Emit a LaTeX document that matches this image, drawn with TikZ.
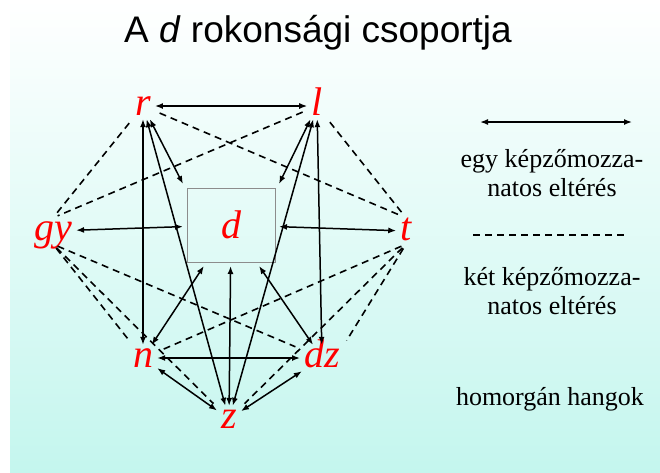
\documentclass[tikz,border=0pt]{standalone}
\usepackage{fontspec}
\setmainfont{Liberation Serif}
\newfontfamily\titlefont{Liberation Sans}
\usetikzlibrary{arrows.meta}
\definecolor{bgcyan}{RGB}{196,246,238}

\begin{document}
\begin{tikzpicture}[
    x=1pt, y=-1pt,
    >={Latex[length=8pt,width=6pt]},
    hang/.style={font=\itshape\fontsize{40}{40}\selectfont, text=red, text height=18pt, text depth=0pt, inner sep=4pt},
    dbox/.style={draw=black!45, line width=0.8pt, minimum width=88pt, minimum height=74pt, inner sep=0pt, outer sep=4pt, font=\itshape\fontsize{40}{40}\selectfont, text=red},
    egy/.style={<->, line width=1.5pt},
    ket/.style={dash pattern=on 7pt off 5pt, line width=1.6pt, shorten <=5pt, shorten >=5pt},
    txt/.style={font=\fontsize{26}{29}\selectfont, align=center},
]
% background
\useasboundingbox (0,0) rectangle (660,472);
\fill[white] (0,0) rectangle (660,472);
\shade[top color=white, bottom color=bgcyan] (10,0) rectangle (660,472);

\node[font=\titlefont\fontsize{37}{37}\selectfont, anchor=base] (cim) at (318,42) {A \textit{d} rokonsági csoportja};

% hangok
\node[dbox] (d) at (231,225) {d};
\node[hang, anchor=base] (r) at (143,115) {r};
\node[hang, anchor=base] (l) at (317,115) {l};
\node[hang, anchor=base] (gy) at (53,240) {gy};
\node[hang, anchor=base] (t) at (406,240) {t};
\node[hang, anchor=base] (n) at (143,367) {n};
\node[hang, anchor=base] (dz) at (322,367) {dz};
\node[hang, anchor=base] (z) at (229,428) {z};

% egy kepzomozzanatos elteres
\draw[egy] (r) -- (l);
\draw[egy] (gy) -- (d);
\draw[egy] (d) -- (t);
\draw[egy] (r) -- (n);
\draw[egy] (r) -- (d.north west);
\draw[egy] (r) -- (z);
\draw[egy] (l) -- (d.north east);
\draw[egy] (l) -- (z);
\draw[egy] (l) -- (dz);
\draw[egy] (d) -- (n);
\draw[egy] (d) -- (z);
\draw[egy] (d) -- (dz);
\draw[egy] (n) -- (dz);
\draw[egy] (n) -- (z);
\draw[egy] (dz) -- (z);

% ket kepzomozzanatos elteres
\draw[ket] (r) -- (gy.north);
\draw[ket] (r) -- (t.north);
\draw[ket] (l) -- (gy.north);
\draw[ket] (l) -- (t.north);
\draw[ket] (gy.south) -- (n);
\draw[ket] (gy.south) -- (z);
\draw[ket] (gy.south) -- (dz);
\draw[ket] (t.south) -- (n);
\draw[ket] (t.south) -- (z);
\draw[ket] (t.south) -- (dz.north east);

% jelmagyarazat
\coordinate (egyA) at (480,122);
\coordinate (egyB) at (632,122);
\draw[egy] (egyA) -- (egyB);
\node[txt] (egyT) at (552,173) {egy képzőmozza-\\natos eltérés};
\coordinate (ketA) at (473,235);
\coordinate (ketB) at (625,235);
\draw[ket, shorten <=0pt, shorten >=0pt] (ketA) -- (ketB);
\node[txt] (ketT) at (552,291) {két képzőmozza-\\natos eltérés};
\node[txt, anchor=base] (homT) at (550,405) {homorgán hangok};
\end{tikzpicture}
\end{document}
